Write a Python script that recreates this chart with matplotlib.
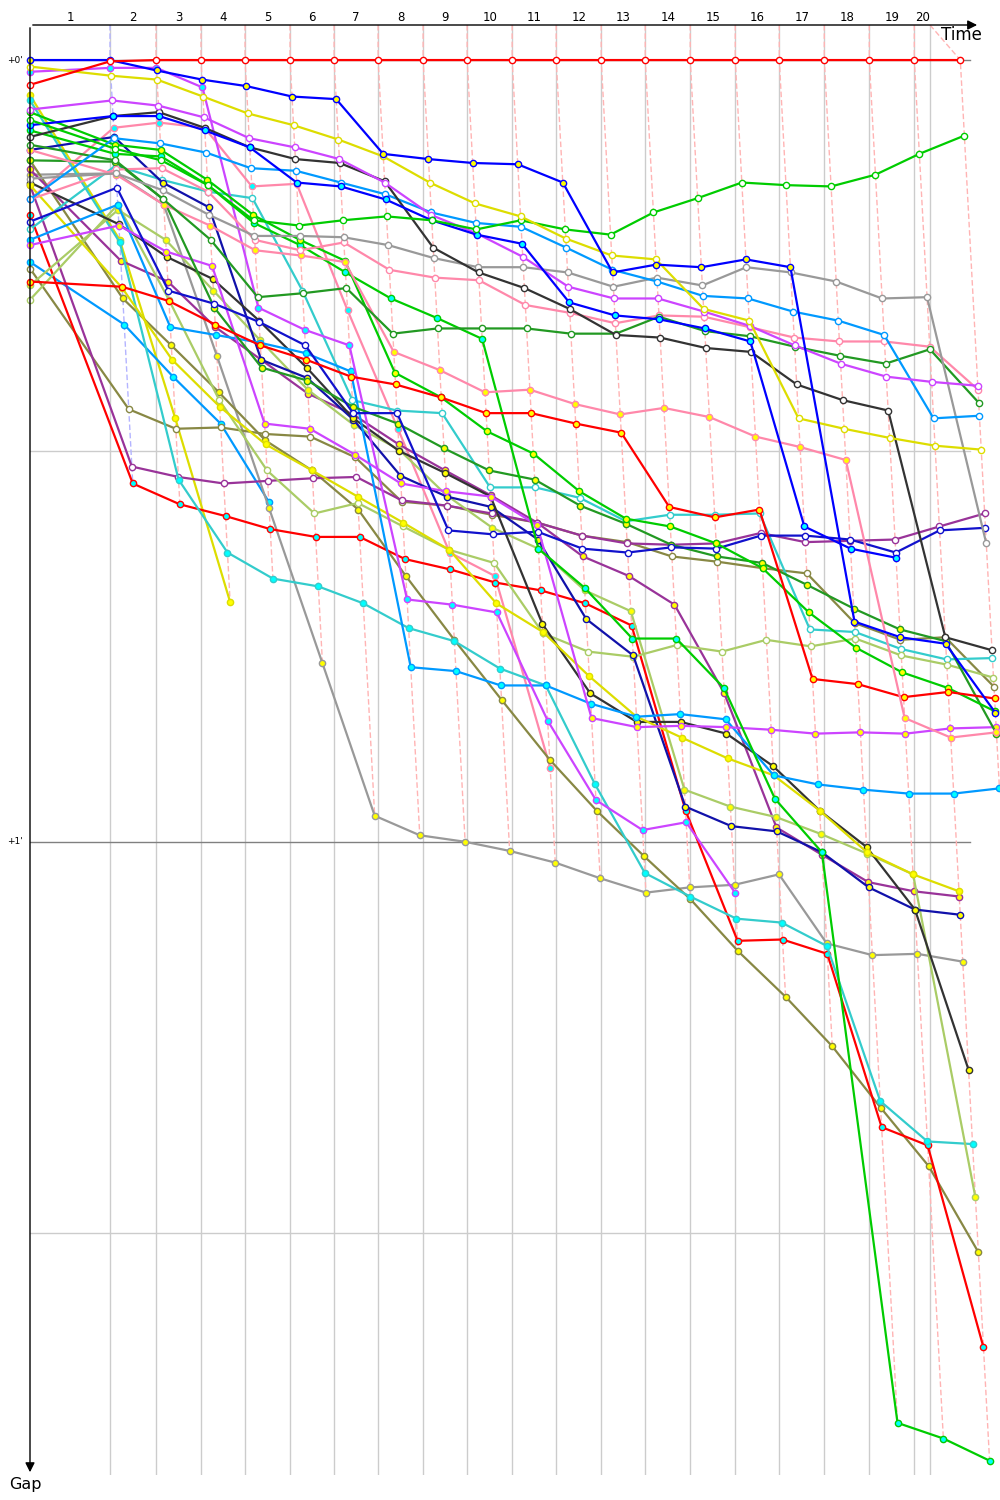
import numpy as np
import matplotlib.pyplot as plt

# leader lap times (s) and the end-of-race line
lap_times = [114.3, 65.7, 64.3, 62.9, 64.3, 62.9, 62.9, 64.3, 62.9, 64.3,
             62.9, 64.3, 62.9, 64.3, 64.3, 62.9, 64.3, 64.3, 64.3, 65.7]
race_end = 1285.7
lap_labels = [str(i) for i in range(1, 21)]

# gap to leader (s) per lap, lap 0 = start
red_1 = [1.9, 0.1, 0.0, 0.0, 0.0, 0.0, 0.0, 0.0, 0.0, 0.0, 0.0, 0.0, 0.0, 0.0, 0.0, 0.0, 0.0, 0.0, 0.0, 0.0, 0.0]
blue_1 = [0.0, 0.0, 0.8, 1.5, 2.0, 2.8, 3.0, 7.2, 7.6, 7.9, 8.0, 9.4, 16.3, 15.7, 15.9, 15.3, 15.9, 43.1, 44.3, 44.8, 50.1]
yellow_1 = [0.5, 1.2, 1.5, 2.8, 4.1, 5.0, 6.1, 7.4, 9.4, 11.0, 12.0, 13.7, 15.0, 15.3, 19.1, 20.0, 27.5, 28.3, 29.0, 29.6, 29.9]
green_1 = [4.6, 6.8, 7.7, 9.6, 12.3, 12.7, 12.3, 12.0, 12.3, 13.0, 12.3, 13.0, 13.4, 11.7, 10.6, 9.4, 9.6, 9.7, 8.8, 7.2, 5.8]
magenta_1 = [3.8, 3.1, 3.5, 4.4, 6.0, 6.7, 7.6, 9.4, 11.9, 13.3, 15.1, 17.4, 18.3, 18.3, 19.3, 20.4, 21.9, 23.3, 24.3, 24.7, 25.0]
black_1 = [5.9, 4.3, 4.0, 5.2, 6.7, 7.6, 7.9, 9.3, 14.4, 16.3, 17.5, 19.1, 21.1, 21.3, 22.1, 22.4, 24.9, 26.1, 26.9, 44.3, 45.3]
ltblue_1 = [10.7, 6.0, 6.4, 7.1, 8.3, 8.5, 9.4, 10.3, 11.7, 12.5, 12.8, 14.4, 16.1, 17.0, 18.1, 18.3, 19.3, 20.0, 21.1, 27.5, 27.3]
gray_1 = [9.1, 8.7, 10.0, 11.9, 13.5, 13.5, 13.6, 14.2, 15.2, 15.9, 15.9, 16.3, 17.4, 16.7, 17.3, 15.9, 16.3, 17.0, 18.3, 18.2, 37.1]
pink_1 = [10.7, 8.4, 8.3, 10.1, 13.8, 14.6, 14.0, 16.1, 16.7, 16.9, 18.8, 19.4, 20.2, 19.6, 19.7, 20.5, 21.3, 21.6, 21.6, 22.0, 25.3]
pink_2 = [6.9, 8.8, 11.1, 12.7, 14.6, 15.0, 15.5, 22.4, 23.8, 25.5, 25.3, 26.4, 27.2, 26.7, 27.4, 28.9, 29.7, 30.7, 50.5, 52.0, 51.6]
dkgreen_1 = [6.5, 7.7, 10.7, 13.8, 18.2, 17.9, 17.5, 21.0, 20.6, 20.6, 20.6, 21.0, 21.0, 19.7, 20.8, 21.2, 22.0, 22.7, 23.3, 22.2, 26.3]
green_2 = [5.4, 7.2, 7.4, 9.6, 12.5, 14.2, 16.3, 18.3, 19.8, 21.4, 37.5, 40.5, 44.4, 44.4, 48.2, 56.7, 60.8, 104.6, 105.8, 107.5]
green_3 = [4.0, 6.5, 6.9, 9.2, 11.9, 13.8, 15.4, 24.0, 25.9, 28.5, 30.2, 33.1, 35.2, 35.8, 37.1, 39.0, 42.4, 45.1, 47.0, 48.2, 50.0]
red_2 = [17.0, 17.4, 18.5, 20.3, 21.9, 23.0, 24.3, 24.9, 25.9, 27.1, 27.1, 27.9, 28.6, 34.3, 35.1, 34.5, 47.5, 47.9, 48.9, 48.5, 49.0]
red_3 = [11.9, 32.5, 34.1, 35.0, 36.0, 36.6, 36.6, 38.3, 39.1, 40.1, 40.7, 41.7, 43.4, 57.6, 67.6, 67.5, 68.6, 81.9, 83.3, 98.8]
purple_1 = [9.6, 31.2, 32.0, 32.5, 32.3, 32.1, 32.0, 33.8, 34.2, 34.8, 35.5, 36.5, 37.1, 37.2, 37.1, 36.3, 37.0, 36.9, 36.8, 35.8, 34.8]
blue_2 = [12.4, 9.8, 17.7, 18.7, 20.1, 21.9, 27.1, 27.1, 36.1, 36.4, 36.2, 37.5, 37.8, 37.4, 37.5, 36.5, 36.5, 36.8, 37.8, 36.1, 35.9]
blue_3 = [5.0, 4.3, 4.3, 5.4, 6.7, 9.4, 9.7, 10.7, 12.3, 13.4, 14.1, 18.6, 19.6, 19.9, 20.6, 21.6, 35.8, 37.5, 38.2]
magenta_2 = [0.9, 0.6, 0.6, 2.1, 19.0, 20.7, 21.9, 41.4, 41.8, 42.4, 50.7, 56.8, 59.1, 58.5, 63.9]
magenta_3 = [14.2, 12.7, 14.7, 15.8, 27.9, 28.3, 30.3, 32.5, 33.1, 33.5, 35.7, 50.5, 51.2, 51.1, 51.2, 51.4, 51.7, 51.6, 51.7, 51.3, 51.2]
ltblue_2 = [15.5, 20.3, 24.3, 27.9, 33.9]
yellow_2 = [2.7, 13.8, 27.5, 41.6]
ltblue_3 = [13.8, 11.1, 20.5, 21.1, 21.7, 22.5, 23.9, 46.6, 46.9, 48.0, 48.0, 49.4, 50.4, 50.2, 50.6, 54.9, 55.6, 56.0, 56.3, 56.3, 55.9]
teal_1 = [13.0, 8.1, 9.2, 10.1, 10.6, 17.7, 26.1, 26.9, 27.1, 32.8, 32.8, 33.6, 35.4, 34.9, 34.9, 34.8, 43.7, 43.9, 45.2, 46.0, 45.9]
teal_2 = [3.1, 14.0, 32.2, 37.8, 39.8, 40.4, 41.7, 43.6, 44.6, 46.7, 48.0, 55.6, 62.4, 64.2, 65.9, 66.2, 68.0, 79.9, 83.0, 83.2]
olive_1 = [7.7, 18.3, 21.9, 25.5, 29.2, 31.5, 34.5, 39.6, 44.5, 49.1, 53.7, 57.6, 61.1, 64.4, 68.4, 71.9, 75.7, 80.4, 84.9, 91.5]
olive_2 = [16.0, 26.8, 28.3, 28.2, 28.7, 28.9, 30.5, 33.9, 34.2, 34.9, 35.5, 36.5, 37.0, 38.1, 38.5, 39.0, 39.4, 43.2, 44.5, 44.3, 48.1]
gray_2 = [8.8, 8.7, 11.1, 22.7, 34.4, 46.3, 58.0, 59.5, 60.0, 60.7, 61.6, 62.8, 63.9, 63.5, 63.3, 62.5, 67.8, 68.7, 68.6, 69.2]
ltgreen_1 = [18.4, 11.1, 18.4, 26.1, 31.5, 34.8, 34.0, 35.8, 37.6, 38.6, 44.0, 45.4, 45.8, 44.9, 45.4, 44.5, 45.0, 44.4, 45.7, 46.4, 47.4]
ltgreen_2 = [17.3, 11.5, 13.8, 17.7, 21.5, 25.3, 28.0, 29.9, 33.4, 35.9, 37.5, 40.7, 42.3, 56.0, 57.3, 58.1, 59.4, 60.9, 62.5, 87.3]
black_2 = [9.4, 12.6, 15.1, 16.8, 20.0, 23.6, 27.5, 30.0, 31.7, 33.5, 43.3, 48.6, 50.8, 50.8, 51.7, 54.2, 57.6, 60.4, 65.2, 77.5]
navy_1 = [6.9, 5.9, 9.4, 11.3, 23.0, 24.4, 27.6, 31.9, 33.5, 34.3, 36.8, 42.9, 45.7, 57.3, 58.8, 59.2, 60.8, 63.5, 65.2, 65.6]
yellow_3 = [9.6, 17.5, 23.0, 26.6, 29.5, 31.5, 33.5, 35.5, 37.6, 41.7, 43.9, 47.3, 50.4, 52.0, 53.6, 54.9, 57.6, 60.8, 62.5, 63.8]
dkgreen_2 = [7.7, 7.8, 10.7, 19.0, 23.6, 24.6, 26.6, 27.9, 29.8, 31.5, 32.2, 34.2, 35.6, 37.2, 38.1, 38.6, 40.3, 42.1, 43.7, 44.6, 51.7]
purple_2 = [8.4, 15.4, 17.0, 20.5, 23.0, 25.6, 27.2, 29.5, 31.5, 33.4, 35.5, 38.1, 39.6, 41.8, 48.6, 58.9, 61.0, 63.1, 63.8, 64.2]
pink_3 = [10.7, 5.2, 4.8, 5.2, 9.7, 9.5, 19.2, 28.3, 37.8, 39.6, 54.3]

W, Y, C = '#ffffff', '#ffff00', '#00ffff'
drivers = [
    (pink_3, '#ff88aa', C), (yellow_2, '#dddd00', Y), (ltblue_2, '#0099ff', C),
    (gray_2, '#999999', Y), (olive_1, '#888844', Y), (olive_2, '#888844', W),
    (purple_2, '#993399', Y), (purple_1, '#993399', W), (red_3, '#ff0000', C),
    (teal_2, '#33cccc', C), (teal_1, '#33cccc', W), (ltgreen_2, '#aacc66', Y),
    (ltgreen_1, '#aacc66', W), (navy_1, '#1111aa', Y), (black_2, '#333333', Y),
    (yellow_3, '#dddd00', Y), (ltblue_3, '#0099ff', C), (magenta_3, '#cc44ff', Y),
    (magenta_2, '#cc44ff', C), (dkgreen_2, '#229922', Y), (blue_2, '#1111cc', W),
    (green_2, '#00cc00', C), (green_3, '#00cc00', Y), (red_2, '#ff0000', Y),
    (pink_2, '#ff88aa', Y), (pink_1, '#ff88aa', W), (dkgreen_1, '#229922', W),
    (gray_1, '#999999', W), (ltblue_1, '#0099ff', W), (black_1, '#333333', W),
    (magenta_1, '#cc44ff', W), (blue_3, '#0000ff', C), (green_1, '#00cc00', W),
    (yellow_1, '#dddd00', W), (blue_1, '#0000ff', Y), (red_1, '#ff0000', W),
]

cum = np.concatenate([[0.0], np.cumsum(lap_times)])
grid_x = list(cum[1:20]) + [race_end]
x_max = 1385.7
y_top, y_bot = -2.69, 108.6

fig = plt.figure(figsize=(10, 15), dpi=100)
ax = fig.add_axes([0.03, 1 - 1475 / 1500, 0.97, 1450 / 1500])
ax.set_xlim(0, x_max)
ax.set_ylim(y_bot, y_top)
ax.axis('off')

# grid
for gx in grid_x:
    ax.plot([gx, gx], [y_top, y_bot], color='#cccccc', lw=1, zorder=0)
for gy, col in [(0, '#808080'), (30, '#cccccc'), (60, '#808080'), (90, '#cccccc')]:
    ax.plot([0, 1343], [gy, gy], color=col, lw=1, zorder=0)

# lap lines (dashed) joining every driver's crossing of the same lap
for k in range(1, 21):
    pts = []
    for gaps, _, _ in drivers:
        if k < len(gaps):
            pts.append((gaps[k], cum[k] + gaps[k]))
    pts.sort()
    xs = [grid_x[k - 1]] + [p[1] for p in pts]
    ys = [y_top] + [p[0] for p in pts]
    col = '#b4b4ff' if k == 1 else '#ffb4b4'
    ax.plot(xs, ys, ls=(0, (4, 2)), color=col, lw=1, zorder=1)

# drivers
for i, (gaps, col, face) in enumerate(drivers):
    g = np.array(gaps)
    x = cum[:len(g)] + g
    x[0] = 0
    ax.plot(x, g, '-', color=col, lw=1.6, marker='o', ms=4.5, mfc=face,
            mec=col, mew=1, zorder=2 + i * 0.01, clip_on=False)

# axes arrows
ax.annotate('', xy=(1357 / x_max, 1), xytext=(0, 1), xycoords='axes fraction',
            arrowprops=dict(arrowstyle='-|>', color='black', lw=1, mutation_scale=14))
ax.annotate('', xy=(0, 0), xytext=(0, 1), xycoords='axes fraction',
            arrowprops=dict(arrowstyle='-|>', color='black', lw=1, mutation_scale=14))
ax.text(1330, -1.9, 'Time', ha='center', va='center', fontsize=12)
ax.text(-7, 109.3, 'Gap', ha='center', va='center', fontsize=11.5, clip_on=False)

# lap labels
edges = [0.0] + grid_x
for i, lab in enumerate(lap_labels):
    ax.text((edges[i] + edges[i + 1]) / 2, -3.3, lab, ha='center', va='center', fontsize=8.5)

ax.text(-21, 0, "+0'", ha='center', va='center', fontsize=6.5)
ax.text(-21, 60, "+1'", ha='center', va='center', fontsize=6.5)

fig.savefig('out.png', dpi=100)
